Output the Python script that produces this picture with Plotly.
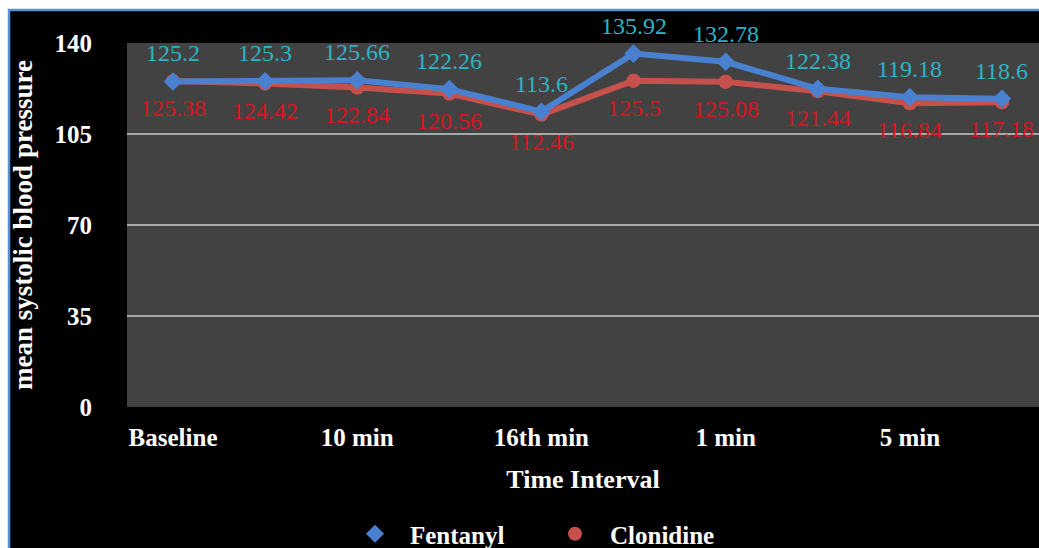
import plotly.graph_objects as go

# ---- data ----
x_index = list(range(10))
tick_positions = [0, 2, 4, 6, 8]
tick_labels = ["Baseline", "10 min", "16th min", "1 min", "5 min"]
fentanyl = [125.2, 125.3, 125.66, 122.26, 113.6, 135.92, 132.78, 122.38, 119.18, 118.6]
clonidine = [125.38, 124.42, 122.84, 120.56, 112.46, 125.5, 125.08, 121.44, 116.84, 117.18]
fentanyl_labels = ["125.2", "125.3", "125.66", "122.26", "113.6", "135.92", "132.78", "122.38", "119.18", "118.6"]
clonidine_labels = ["125.38", "124.42", "122.84", "120.56", "112.46", "125.5", "125.08", "121.44", "116.84", "117.18"]
y_ticks = [0, 35, 70, 105, 140]

W, H = 1039, 548
L, R, T, B = 127, 0, 43, 141
plot_w = W - L - R
plot_h = H - T - B

BLUE = "#4a80d0"
RED = "#c6504c"
CYAN = "#2db4c6"
LRED = "#d8141e"
SERIF = "Liberation Serif"

fig = go.Figure()
# connecting lines (no legend)
fig.add_trace(go.Scatter(
    x=x_index, y=clonidine, mode="lines+markers", showlegend=False, hoverinfo="skip",
    line=dict(color=RED, width=6), marker=dict(symbol="circle", size=14, color=RED),
    cliponaxis=False,
))
# marker-only legend carriers
fig.add_trace(go.Scatter(
    x=x_index, y=clonidine, name="Clonidine", mode="markers",
    marker=dict(symbol="circle", size=14, color=RED), legendrank=2, cliponaxis=False,
))
fig.add_trace(go.Scatter(
    x=x_index, y=fentanyl, mode="lines+markers", showlegend=False, hoverinfo="skip",
    line=dict(color=BLUE, width=6), marker=dict(symbol="diamond", size=14, color=BLUE),
    cliponaxis=False,
))
fig.add_trace(go.Scatter(
    x=x_index, y=fentanyl, name="Fentanyl", mode="markers",
    marker=dict(symbol="diamond", size=14, color=BLUE), legendrank=1, cliponaxis=False,
))

annotations = []
for xi, v, t in zip(x_index, fentanyl, fentanyl_labels):
    annotations.append(dict(x=xi, y=v, text=t, showarrow=False, yshift=28,
                            font=dict(family=SERIF, size=24, color=CYAN)))
for xi, v, t in zip(x_index, clonidine, clonidine_labels):
    annotations.append(dict(x=xi, y=v, text=t, showarrow=False, yshift=-27,
                            font=dict(family=SERIF, size=24, color=LRED)))

def px_x(p):
    return (p - L) / plot_w

def px_y(p):
    return (H - B - p) / plot_h

shapes = [
    # white margins at top and left
    dict(type="rect", xref="paper", yref="paper", x0=px_x(-5), x1=px_x(W + 5), y0=px_y(9), y1=px_y(-5),
         fillcolor="white", line=dict(width=0), layer="above"),
    dict(type="rect", xref="paper", yref="paper", x0=px_x(-5), x1=px_x(8), y0=px_y(H + 5), y1=px_y(-5),
         fillcolor="white", line=dict(width=0), layer="above"),
    # blue border
    dict(type="line", xref="paper", yref="paper", x0=px_x(8), x1=px_x(W + 5), y0=px_y(10), y1=px_y(10),
         line=dict(color="#5b8fd4", width=2.5), layer="above"),
    dict(type="line", xref="paper", yref="paper", x0=px_x(9), x1=px_x(9), y0=px_y(9), y1=px_y(H + 5),
         line=dict(color="#5b8fd4", width=2.5), layer="above"),
]

fig.update_layout(
    width=W, height=H,
    margin=dict(l=L, r=R, t=T, b=B, pad=0, autoexpand=False),
    paper_bgcolor="black",
    plot_bgcolor="#424242",
    font=dict(family=SERIF, color="white"),
    showlegend=True,
    legend=dict(orientation="h", x=px_x(340), xanchor="left", y=px_y(534), yanchor="middle",
                font=dict(family=SERIF, size=25, color="white", weight="bold"), itemwidth=60,
                entrywidth=125, entrywidthmode="pixels",
                bgcolor="rgba(0,0,0,0)", traceorder="normal"),
    annotations=annotations,
    shapes=shapes,
    xaxis=dict(
        range=[-0.5, -0.5 + plot_w / 92.1],
        tickmode="array", tickvals=tick_positions, ticktext=tick_labels,
        showgrid=False, zeroline=False, showline=False, ticks="",
        tickfont=dict(family=SERIF, size=25, color="white", weight="bold"),
        ticklabelstandoff=13, automargin=False,
        title=dict(text="<b>Time Interval</b>", font=dict(family=SERIF, size=26, color="white"), standoff=19),
    ),
    yaxis=dict(
        range=[0, 140],
        tickmode="array", tickvals=y_ticks,
        showgrid=True, gridcolor="#a8a8a8", gridwidth=2,
        zeroline=False, showline=False, ticks="",
        tickfont=dict(family=SERIF, size=25, color="white", weight="bold"),
        ticklabelstandoff=34, automargin=False,
        title=dict(text="<b>mean systolic blood pressure</b>", font=dict(family=SERIF, size=27, color="white"), standoff=14),
    ),
)

fig.write_html(
    "out.html",
    config={"displayModeBar": False},
    post_script="document.body.style.margin='0';document.body.style.overflow='hidden';",
)
